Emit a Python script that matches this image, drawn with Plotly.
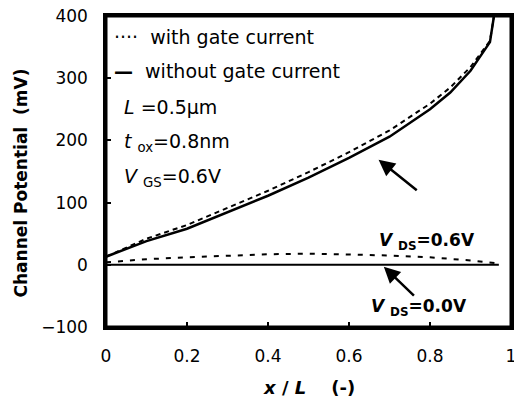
import plotly.graph_objects as go

# x / L positions
x_06 = [0.0, 0.1, 0.2, 0.3, 0.4, 0.5, 0.6, 0.7, 0.8, 0.85, 0.9, 0.948, 0.958]
v06_without = [13, 38, 58, 84, 111, 140, 172, 206, 250, 277, 312, 358, 400]
v06_with = [13, 42, 64, 91, 119, 149, 181, 216, 259, 285, 318, 360, 400]

x_00 = [0.0, 0.1, 0.2, 0.3, 0.4, 0.5, 0.6, 0.7, 0.8, 0.9, 0.97]
v00_with = [4, 9, 12, 15, 17, 18, 17, 15, 12, 7, 2]
v00_without = [0, 0, 0, 0, 0, 0, 0, 0, 0, 0, 0]

x_ticks = [0, 0.2, 0.4, 0.6, 0.8, 1]
x_ticklabels = ["0", "0.2", "0.4", "0.6", "0.8", "1"]
y_ticks = [-100, 0, 100, 200, 300, 400]

FONT = "DejaVu Sans, sans-serif"

fig = go.Figure()
fig.add_trace(go.Scatter(x=x_06, y=v06_with, mode="lines",
                         line=dict(color="black", width=2, dash="5px,4px"),
                         name="with gate current"))
fig.add_trace(go.Scatter(x=x_06, y=v06_without, mode="lines",
                         line=dict(color="black", width=2.5),
                         name="without gate current"))
fig.add_trace(go.Scatter(x=x_00, y=v00_with, mode="lines",
                         line=dict(color="black", width=2, dash="5px,7px"),
                         showlegend=False))
fig.add_trace(go.Scatter(x=x_00, y=v00_without, mode="lines",
                         line=dict(color="black", width=2),
                         showlegend=False))

ann_font = dict(family=FONT, size=19, color="black")
bold_font = dict(family=FONT, size=17, color="black")
fig.add_annotation(x=0.015, y=366, xref="x", yref="y", xanchor="left", showarrow=False,
                   text="····  with gate current", font=ann_font)
fig.add_annotation(x=0.015, y=311, xref="x", yref="y", xanchor="left", showarrow=False,
                   text="<b>—</b>  without gate current", font=ann_font)
fig.add_annotation(x=0.04, y=253, xref="x", yref="y", xanchor="left", showarrow=False,
                   text="<i>L</i> =0.5μm", font=ann_font)
fig.add_annotation(x=0.04, y=197, xref="x", yref="y", xanchor="left", showarrow=False,
                   text="<i>t</i> <sub>ox</sub>=0.8nm", font=ann_font)
fig.add_annotation(x=0.04, y=140, xref="x", yref="y", xanchor="left", showarrow=False,
                   text="<i>V</i> <sub>GS</sub>=0.6V", font=ann_font)

fig.add_annotation(x=0.673, y=169, ax=0.771, ay=118, xref="x", yref="y", axref="x", ayref="y",
                   showarrow=True, arrowhead=2, arrowsize=1.3, arrowwidth=2.5, arrowcolor="black",
                   text="")
fig.add_annotation(x=0.67, y=37, xref="x", yref="y", xanchor="left", showarrow=False,
                   text="<b><i>V</i> <sub>DS</sub>=0.6V</b>", font=bold_font)
fig.add_annotation(x=0.686, y=-3, ax=0.764, ay=-52, xref="x", yref="y", axref="x", ayref="y",
                   showarrow=True, arrowhead=2, arrowsize=1.3, arrowwidth=2.5, arrowcolor="black",
                   text="")
fig.add_annotation(x=0.65, y=-68, xref="x", yref="y", xanchor="left", showarrow=False,
                   text="<b><i>V</i> <sub>DS</sub>=0.0V</b>", font=bold_font)

# axis titles
fig.add_annotation(x=0, y=0.5, xref="paper", yref="paper", xshift=-86, yshift=-12,
                   textangle=-90, xanchor="center", yanchor="middle",
                   showarrow=False, text="<b>Channel Potential  (mV)</b>",
                   font=dict(family=FONT, size=17, color="black"))
fig.add_annotation(x=0.5, y=0, xref="paper", yref="paper", yshift=-60,
                   xanchor="center", yanchor="middle",
                   showarrow=False, text="<b><i>x</i> / <i>L</i>    (-)</b>",
                   font=dict(family=FONT, size=18, color="black"))

# plot frame
fig.add_shape(type="rect", xref="paper", yref="paper", x0=0, x1=1, y0=0, y1=1,
              line=dict(color="black", width=3), layer="above")

axis_common = dict(showline=True, linecolor="black", linewidth=2.5, mirror=True,
                   ticks="inside", ticklen=5, tickwidth=2, tickcolor="black",
                   showgrid=False, zeroline=False, automargin=False,
                   ticklabeloverflow="allow",
                   tickfont=dict(family=FONT, size=17, color="black"))

fig.update_xaxes(range=[0, 1], tickvals=x_ticks, ticktext=x_ticklabels,
                 ticklabelstandoff=12, **axis_common)
fig.update_yaxes(range=[-100, 400], tickvals=y_ticks,
                 ticklabelstandoff=12, **axis_common)

fig.update_layout(width=514, height=405, margin=dict(l=106, r=3, t=16, b=78),
                  paper_bgcolor="white", plot_bgcolor="white", showlegend=False)

fig.write_html("out.html", config={"displayModeBar": False},
               post_script="document.body.style.margin='0';document.body.style.overflow='hidden';")
